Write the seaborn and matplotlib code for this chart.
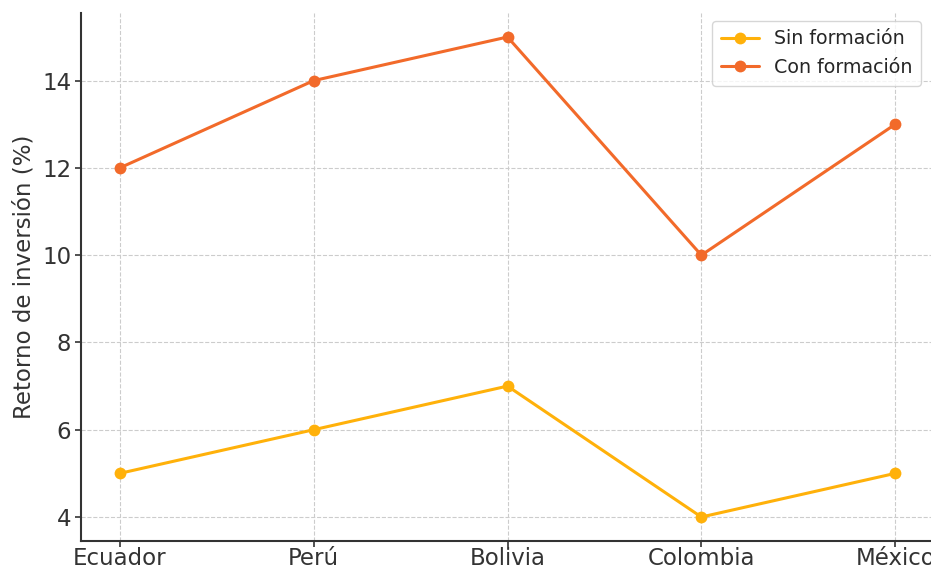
import matplotlib
matplotlib.use("Agg")
import matplotlib.pyplot as plt
import seaborn as sns
import pandas as pd

paises = ["Ecuador", "Perú", "Bolivia", "Colombia", "México"]
sin_formacion = [5, 6, 7, 4, 5]
con_formacion = [12, 14, 15, 10, 13]

sns.set_theme(style="ticks")
plt.rcParams["font.family"] = ["DejaVu Sans"]

df = pd.DataFrame({
    "País": paises * 2,
    "Retorno": sin_formacion + con_formacion,
    "Grupo": ["Sin formación"] * len(paises) + ["Con formación"] * len(paises),
})

fig = plt.figure(figsize=(9.31, 5.69), dpi=100)
ax = fig.add_axes([81 / 931, 1 - 541 / 569, (934 - 81) / 931, (541 - 13) / 569])

sns.lineplot(data=df, x="País", y="Retorno", hue="Grupo",
             palette={"Sin formación": "#FFB10A", "Con formación": "#F26A2A"},
             marker="o", markersize=8.5, markeredgewidth=0, linewidth=2.2,
             sort=False, ax=ax)

ax.grid(True, linestyle="--", color="#cccccc", linewidth=0.8)
ax.set_axisbelow(True)
for side in ["top", "right"]:
    ax.spines[side].set_visible(False)
for side in ["left", "bottom"]:
    ax.spines[side].set_linewidth(1.5)
    ax.spines[side].set_color("#333333")
ax.tick_params(axis="both", labelsize=16.5, colors="#333333", width=1.2, length=4, pad=3)
ax.tick_params(axis="x", pad=0.5)
ax.set_xlabel("")
ax.set_ylabel("Retorno de inversión (%)", fontsize=16.5, color="#333333", labelpad=5)
ax.set_yticks([4, 6, 8, 10, 12, 14])
ax.set_ylim(3.45, 15.55)
ax.set_xlim(-0.2, 4.2)

leg = ax.legend(loc="upper right", bbox_to_anchor=(0.996, 1.003), fontsize=13.7,
                frameon=True, borderpad=0.45, handlelength=2.0)
leg.get_frame().set_edgecolor("#cccccc")
leg.set_title(None)

fig.savefig("out.png", dpi=100)
